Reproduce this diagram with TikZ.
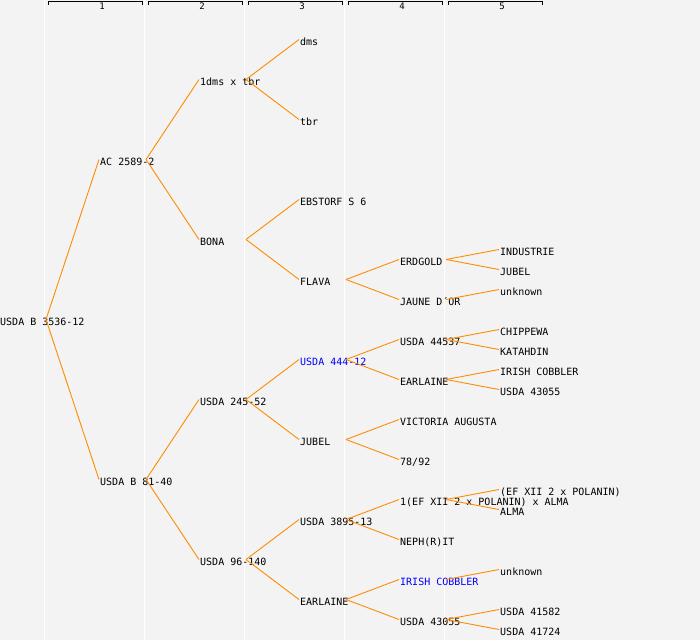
\documentclass[tikz,border=0pt]{standalone}
\usepackage{fontspec}
\setmonofont{DejaVu Sans Mono}
\usepackage{tikz}

\definecolor{pedbg}{HTML}{F3F3F3}
\definecolor{pedline}{HTML}{FF8C00}
\definecolor{pedblue}{HTML}{0000FF}

\tikzset{
  pname/.style={anchor=west, inner sep=0pt, text height=7.3pt, text depth=0pt,
                font=\ttfamily\fontsize{10}{12}\selectfont},
  pblue/.style={pname, text=pedblue},
  edge/.style={draw=pedline, line width=0.9pt},
  colsep/.style={draw=white, line width=1pt},
  colhead/.style={draw=black, line width=1pt},
  headnum/.style={inner sep=0pt, font=\ttfamily\fontsize{9}{10}\selectfont}
}

\begin{document}
\begin{tikzpicture}[x=1pt, y=-1pt]

% background
\fill[pedbg] (0,0) rectangle (700,640);
\useasboundingbox (0,0) rectangle (700,640);

% column separators and headers
\foreach \i in {1,...,5} {
  \draw[colsep] (\i*100-55.5,0) -- (\i*100-55.5,640);
  \draw[colhead] (\i*100-52,4.5) -- (\i*100-52,1.5) -- (\i*100+42,1.5) -- (\i*100+42,4.5);
  \node[headnum] (h\i) at (\i*100+2,6.5) {\i};
}

% generation 0
\node[pname] (root) at (0,322) {USDA B 3536-12};

% generation 1
\node[pname] (ac) at (100,162) {AC 2589-2};
\node[pname] (ub) at (100,482) {USDA B 81-40};

% generation 2
\node[pname] (dmstbr) at (200,82) {1dms x tbr};
\node[pname] (bona) at (200,242) {BONA};
\node[pname] (u245) at (200,402) {USDA 245-52};
\node[pname] (u96) at (200,562) {USDA 96-140};

% generation 3
\node[pname] (dms) at (300,42) {dms};
\node[pname] (tbr) at (300,122) {tbr};
\node[pname] (ebs) at (300,202) {EBSTORF S 6};
\node[pname] (flava) at (300,282) {FLAVA};
\node[pblue] (u444) at (300,362) {USDA 444-12};
\node[pname] (jubelA) at (300,442) {JUBEL};
\node[pname] (u3895) at (300,522) {USDA 3895-13};
\node[pname] (earA) at (300,602) {EARLAINE};

% generation 4
\node[pname] (erd) at (400,262) {ERDGOLD};
\node[pname] (jaune) at (400,302) {JAUNE D´OR};
\node[pname] (u44537) at (400,342) {USDA 44537};
\node[pname] (earB) at (400,382) {EARLAINE};
\node[pname] (vic) at (400,422) {VICTORIA AUGUSTA};
\node[pname] (n7892) at (400,462) {78/92};
\node[pname] (efxa) at (400,502) {1(EF XII 2 x POLANIN) x ALMA};
\node[pname] (neph) at (400,542) {NEPH(R)IT};
\node[pblue] (irishA) at (400,582) {IRISH COBBLER};
\node[pname] (u43055A) at (400,622) {USDA 43055};

% generation 5
\node[pname] (ind) at (500,252) {INDUSTRIE};
\node[pname] (jubelB) at (500,272) {JUBEL};
\node[pname] (unkA) at (500,292) {unknown};
\node[pname] (chip) at (500,332) {CHIPPEWA};
\node[pname] (kat) at (500,352) {KATAHDIN};
\node[pname] (irishB) at (500,372) {IRISH COBBLER};
\node[pname] (u43055B) at (500,392) {USDA 43055};
\node[pname] (efx) at (500,492) {(EF XII 2 x POLANIN)};
\node[pname] (alma) at (500,512) {ALMA};
\node[pname] (unkB) at (500,572) {unknown};
\node[pname] (u41582) at (500,612) {USDA 41582};
\node[pname] (u41724) at (500,632) {USDA 41724};

% parent -> child links (fork starts just past the column line)
\foreach \p/\c in {root/ac, root/ub,
                   ac/dmstbr, ac/bona, ub/u245, ub/u96,
                   dmstbr/dms, dmstbr/tbr, bona/ebs, bona/flava,
                   u245/u444, u245/jubelA, u96/u3895, u96/earA,
                   flava/erd, flava/jaune, u444/u44537, u444/earB,
                   jubelA/vic, jubelA/n7892, u3895/efxa, u3895/neph,
                   earA/irishA, earA/u43055A,
                   erd/ind, erd/jubelB, jaune/unkA, u44537/chip, u44537/kat,
                   earB/irishB, earB/u43055B, efxa/efx, efxa/alma,
                   irishA/unkB, u43055A/u41582, u43055A/u41724}
  \draw[edge] ([xshift=46pt,yshift=2.5pt]\p.west) -- ([xshift=-1pt,yshift=2.5pt]\c.west);

\end{tikzpicture}
\end{document}
